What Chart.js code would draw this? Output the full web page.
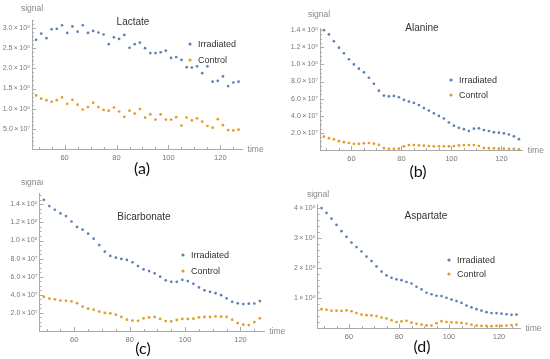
<!DOCTYPE html>
<html>
<head>
<meta charset="utf-8">
<script src="https://cdn.jsdelivr.net/npm/chart.js@4.4.1/dist/chart.umd.min.js"></script>
<style>
html,body{margin:0;padding:0;background:#fff;}
body{width:550px;height:359px;position:relative;overflow:hidden;}
canvas{position:absolute;}
</style>
</head>
<body>
<canvas id="cA"></canvas>
<canvas id="cB"></canvas>
<canvas id="cC"></canvas>
<canvas id="cD"></canvas>
<script>
// time points (s)
const times = [49,51,53,55,57,59,61,63,65,67,69,71,73,75,77,79,81,83,85,87,
               89,91,93,95,97,99,101,103,105,107,109,111,113,115,117,119,121,123,125,127];

// Lactate, x10^8
const lactateIrr = [2.71,2.86,2.75,2.97,2.98,3.07,2.88,3.04,2.91,3.07,2.88,2.93,2.89,2.84,2.60,2.77,2.73,2.83,2.51,2.60,
                    2.64,2.50,2.38,2.38,2.40,2.44,2.26,2.28,2.21,2.03,2.02,2.05,1.88,2.05,1.67,1.69,1.80,1.56,1.65,1.67];
const lactateCtl = [1.33,1.25,1.21,1.17,1.21,1.28,1.12,1.22,1.10,0.98,1.04,1.15,1.04,0.97,0.95,1.03,0.93,0.80,0.95,0.88,
                    0.99,0.78,0.86,0.73,0.86,0.73,0.73,0.79,0.58,0.78,0.71,0.76,0.68,0.57,0.53,0.74,0.59,0.47,0.46,0.48];

// Alanine, x10^7
const alanineIrr = [14.0,13.5,12.7,11.95,11.3,10.6,10.0,9.5,9.07,8.44,7.74,6.93,6.36,6.26,6.32,6.16,5.85,5.66,5.5,5.25,
                    4.9,4.6,4.28,3.98,3.68,3.21,2.84,2.59,2.43,2.22,2.49,2.53,2.33,2.22,2.06,2.02,1.95,1.81,1.6,1.27];
const alanineCtl = [1.56,1.38,1.25,1.03,0.91,0.82,0.72,0.72,0.78,0.82,0.74,0.6,0.23,0.14,0.14,0.17,0.43,0.58,0.58,0.54,
                    0.5,0.47,0.43,0.43,0.43,0.43,0.47,0.54,0.58,0.58,0.58,0.47,0.23,0.23,0.19,0.16,0.16,0.12,0.12,0.08];

// Bicarbonate, x10^7
const bicarbIrr = [14.5,13.8,13.4,13.0,12.7,12.1,11.5,11.2,10.75,10.2,9.5,8.77,8.3,8.1,7.96,7.85,7.6,7.18,6.81,6.62,
                   6.37,6.0,5.6,5.43,5.43,5.65,5.52,5.21,4.81,4.5,4.33,4.18,3.96,3.61,3.22,3.06,2.97,3.02,3.04,3.31];
const bicarbCtl = [3.78,3.58,3.5,3.37,3.33,3.28,3.08,2.7,2.47,2.36,2.15,2.0,1.95,1.8,1.55,1.25,1.15,1.12,1.4,1.5,
                   1.55,1.33,1.1,1.07,1.22,1.33,1.33,1.36,1.51,1.55,1.55,1.62,1.58,1.55,1.25,0.88,0.7,0.66,0.99,1.4];

// Aspartate, x10^8
const aspartIrr = [4.01,3.85,3.66,3.45,3.24,3.05,2.86,2.71,2.56,2.39,2.24,2.06,1.89,1.76,1.68,1.63,1.6,1.54,1.49,1.38,
                   1.29,1.18,1.13,1.08,1.07,1.01,0.95,0.9,0.84,0.75,0.69,0.63,0.58,0.53,0.5,0.5,0.48,0.46,0.44,0.45];
const aspartCtl = [0.63,0.61,0.58,0.58,0.57,0.59,0.56,0.5,0.45,0.43,0.42,0.4,0.35,0.32,0.26,0.2,0.22,0.24,0.18,0.14,
                   0.11,0.09,0.08,0.16,0.23,0.2,0.19,0.18,0.17,0.15,0.11,0.08,0.07,0.07,0.06,0.07,0.07,0.08,0.1,0.11];

// tick labels
const xTicks = [60,80,100,120];
const yTicksA = [0.5,1,1.5,2,2.5,3];
const yLabelsA = ['5.0\u2009×\u200910⁷','1.0\u2009×\u200910⁸','1.5\u2009×\u200910⁸','2.0\u2009×\u200910⁸','2.5\u2009×\u200910⁸','3.0\u2009×\u200910⁸'];
const yTicksB = [2,4,6,8,10,12,14];
const yLabelsB = ['2.0\u2009×\u200910⁷','4.0\u2009×\u200910⁷','6.0\u2009×\u200910⁷','8.0\u2009×\u200910⁷','1.0\u2009×\u200910⁸','1.2\u2009×\u200910⁸','1.4\u2009×\u200910⁸'];
const yTicksD = [1,2,3,4];
const yLabelsD = ['1\u2009×\u200910⁸','2\u2009×\u200910⁸','3\u2009×\u200910⁸','4\u2009×\u200910⁸'];
const seriesNames = ['Irradiated','Control'];

const BLUE='#5e81b5', ORANGE='#e19c24';
const TICK_FONT='"Liberation Sans", Arial, sans-serif';

const panels = [
  {id:'cA',left:0,top:0,w:275,h:180,area:{l:32,t:20,r:242.6,b:149},yMax:3.2,irr:lactateIrr,ctl:lactateCtl,
   yTicks:yTicksA,yLabels:yLabelsA,yMinor:0.1,title:'Lactate',tx:133,ty:22,lx:190,ly:44,lg:16,letter:'(a)',px:142,py:169,sx:32,sy:9},
  {id:'cB',left:275,top:0,w:275,h:180,area:{l:45,t:28,r:247.8,b:150},yMax:14.25,irr:alanineIrr,ctl:alanineCtl,
   yTicks:yTicksB,yLabels:yLabelsB,yMinor:0.5,title:'Alanine',tx:147,ty:28,lx:176,ly:80,lg:15,letter:'(b)',px:143,py:172,sx:44,sy:15},
  {id:'cC',left:0,top:180,w:300,h:179,area:{l:39.5,t:13,r:264.2,b:151},yMax:15.25,irr:bicarbIrr,ctl:bicarbCtl,
   yTicks:yTicksB,yLabels:yLabelsB,yMinor:0.5,title:'Bicarbonate',tx:144,ty:37,lx:183,ly:75,lg:16,letter:'(c)',px:143,py:169,sx:32,sy:3},
  {id:'cD',left:275,top:180,w:275,h:179,area:{l:42.6,t:24,r:245.4,b:148},yMax:4.15,irr:aspartIrr,ctl:aspartCtl,
   yTicks:yTicksD,yLabels:yLabelsD,yMinor:0.2,title:'Aspartate',tx:151,ty:36,lx:174,ly:80,lg:14,letter:'(d)',px:147,py:167,sx:43,sy:15}
];

// draws inward tick marks, axis captions, title, legend inside plot and panel letter
const decor = {
  id:'decor',
  afterDraw(chart){
    const p = chart.options.plugins.decor;
    const ctx = chart.ctx, a = chart.chartArea;
    const xs = chart.scales.x, ys = chart.scales.y;
    ctx.save();
    ctx.strokeStyle = '#aaa'; ctx.lineWidth = 1;
    ctx.beginPath();
    for(let v=50; v<=xs.max; v+=5){
      const px = Math.round(xs.getPixelForValue(v))+0.5;
      const len = (v%20===0) ? 4 : 2;
      ctx.moveTo(px,a.bottom); ctx.lineTo(px,a.bottom-len);
    }
    const nMinor = Math.floor(ys.max/p.yMinor+1e-6);
    for(let i=1;i<=nMinor;i++){
      const v = i*p.yMinor;
      const py = Math.round(ys.getPixelForValue(v))+0.5;
      const major = p.yTicks.some(t=>Math.abs(t-v)<1e-6);
      ctx.moveTo(a.left,py); ctx.lineTo(a.left+(major?4:2),py);
    }
    ctx.stroke();

    ctx.fillStyle = '#888';
    ctx.font = '8.5px '+TICK_FONT;
    ctx.textBaseline = 'middle';
    ctx.textAlign = 'center';
    ctx.fillText('signal', p.sx, p.sy);
    ctx.textAlign = 'left';
    ctx.fillText('time', a.right+5, a.bottom+0.5);

    ctx.fillStyle = '#333';
    ctx.font = '10px '+TICK_FONT;
    ctx.textAlign = 'center';
    ctx.fillText(p.title, p.tx, p.ty);

    ctx.font = '9px '+TICK_FONT;
    ctx.textAlign = 'left';
    chart.data.datasets.forEach((ds,i)=>{
      const y = p.ly + i*p.lg;
      ctx.fillStyle = ds.backgroundColor;
      ctx.beginPath(); ctx.arc(p.lx, y, 1.6, 0, Math.PI*2); ctx.fill();
      ctx.fillStyle = '#333';
      ctx.fillText(ds.label, p.lx+8, y+0.5);
    });

    ctx.fillStyle = '#111';
    ctx.font = '16px Lato, "Open Sans", sans-serif';
    ctx.textAlign = 'center';
    ctx.fillText(p.letter, p.px, p.py);
    ctx.restore();
  }
};

panels.forEach(p=>{
  const cv = document.getElementById(p.id);
  cv.width = p.w; cv.height = p.h;
  cv.style.left = p.left+'px'; cv.style.top = p.top+'px';
  cv.style.width = p.w+'px'; cv.style.height = p.h+'px';
  const xHeight = 16;
  new Chart(cv.getContext('2d'),{
    type:'scatter',
    data:{datasets:[
      {label:seriesNames[0],data:times.map((t,i)=>({x:t,y:p.irr[i]})),backgroundColor:BLUE,pointRadius:1.35,pointBorderWidth:0,clip:false},
      {label:seriesNames[1],data:times.map((t,i)=>({x:t,y:p.ctl[i]})),backgroundColor:ORANGE,pointRadius:1.35,pointBorderWidth:0,clip:false}
    ]},
    options:{
      responsive:false, animation:false, devicePixelRatio:1,
      layout:{padding:{left:0,top:p.area.t,right:p.w-p.area.r,bottom:p.h-p.area.b-xHeight}},
      plugins:{legend:{display:false},tooltip:{enabled:false},title:{display:false},decor:p},
      scales:{
        x:{type:'linear',min:47.44,max:128.56,
           grid:{display:false,drawTicks:false},border:{display:true,color:'#aaa',width:1},
           afterBuildTicks:s=>{s.ticks = xTicks.map(v=>({value:v}));},
           afterFit:s=>{s.height = xHeight;},
           ticks:{color:'#777',font:{family:TICK_FONT,size:7.5},padding:4,maxRotation:0,autoSkip:false,
                  callback:(v,i)=>String(xTicks[i])}},
        y:{type:'linear',min:0,max:p.yMax,
           grid:{display:false,drawTicks:false},border:{display:true,color:'#aaa',width:1},
           afterBuildTicks:s=>{s.ticks = p.yTicks.map(v=>({value:v}));},
           afterFit:s=>{s.width = p.area.l;},
           ticks:{color:'#777',font:{family:TICK_FONT,size:7},padding:2,autoSkip:false,
                  callback:(v,i)=>p.yLabels[i]}}
      }
    },
    plugins:[decor]
  });
});
</script>
</body>
</html>
